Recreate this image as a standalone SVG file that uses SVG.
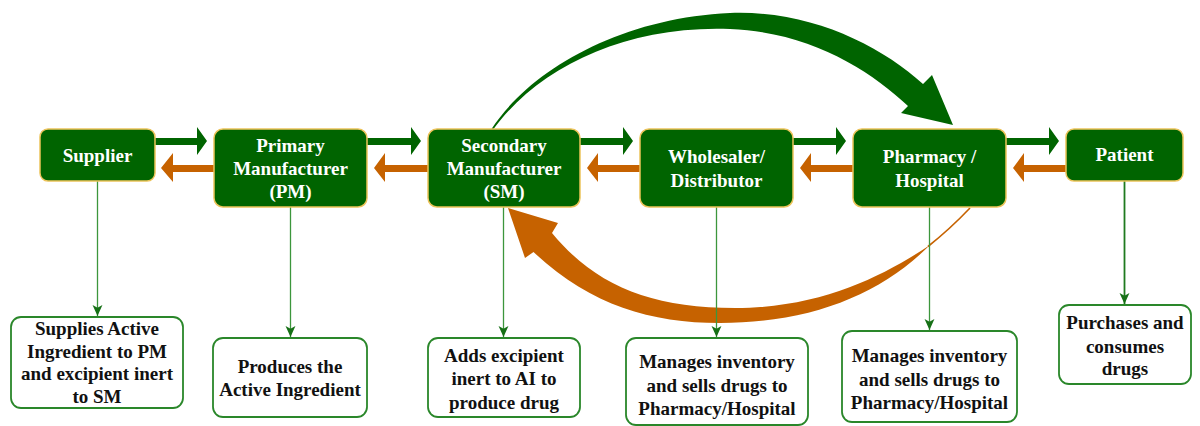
<svg xmlns="http://www.w3.org/2000/svg" width="1200" height="426" viewBox="0 0 1200 426">
  <style>
    .stage { fill: #006400; stroke: #ecc35a; stroke-width: 1.5; }
    .stage-text { font-family: "Liberation Serif", "Times New Roman", serif; font-weight: bold; font-size: 19px; fill: #ffffff; text-anchor: middle; }
    .note { fill: #ffffff; stroke: #2a872a; stroke-width: 1.8; }
    .note-text { font-family: "Liberation Serif", "Times New Roman", serif; font-weight: bold; font-size: 19px; fill: #111111; text-anchor: middle; }
    .fwd { fill: #006400; }
    .back { fill: #c66200; }
    .drop { stroke: #3c963c; stroke-width: 1.3; fill: none; marker-end: url(#tip); }
  </style>
  <defs>
    <marker id="tip" viewBox="0 0 10 10" refX="10" refY="5" markerWidth="11" markerHeight="11" markerUnits="userSpaceOnUse" orient="auto">
      <path d="M0,0.5 L10,5 L0,9.5 L2.5,5 Z" fill="#167016"/>
    </marker>
  </defs>

  <rect width="1200" height="426" fill="#ffffff"/>

  <g id="connectors">
    <!-- forward flow (green) -->
    <path class="fwd" d="M155,138 H197 V127 L207,141 L197,155 V145 H155 Z"/>
    <path class="fwd" d="M367,138 H411 V127 L421,141 L411,155 V145 H367 Z"/>
    <path class="fwd" d="M580,138 H623 V127 L633,141 L623,155 V145 H580 Z"/>
    <path class="fwd" d="M793,138 H836 V127 L846,141 L836,155 V145 H793 Z"/>
    <path class="fwd" d="M1006,138 H1049 V127 L1059,141 L1049,155 V145 H1006 Z"/>
    <!-- return flow (orange) -->
    <path class="back" d="M214,165 H173 V153 L161,168 L173,182 V172 H214 Z"/>
    <path class="back" d="M428,165 H385 V153 L374,168 L385,182 V172 H428 Z"/>
    <path class="back" d="M640,165 H598 V153 L587,168 L598,182 V172 H640 Z"/>
    <path class="back" d="M853,165 H811 V153 L800,168 L811,182 V172 H853 Z"/>
    <path class="back" d="M1066,165 H1024 V153 L1013,168 L1024,182 V172 H1066 Z"/>
    <!-- direct route SM to pharmacy: tapered band widening toward the head -->
    <path class="fwd" d="M953,125 L901,113 L908,106 C870,70 810,32 730,29 C625,25 538,68 493.5,129 L491.5,129 C530,70 620,18 730,13 C810,10 880,45 923,84 L932,75 Z"/>
    <!-- returns from pharmacy back to SM -->
    <path class="back" d="M508,208 L558,223 L552,233 C595,285 650,308 735,308 C822,308 885,275 930,245 C880,295 810,323 720,323 C650,323 590,305 533.5,252 L525,258 Z"/>
    <path d="M928,246.5 Q950,229 970,208" fill="none" stroke="#c66200" stroke-width="1.6"/>
    <!-- role descriptions -->
    <path class="drop" d="M97.5,181 V316"/>
    <path class="drop" d="M290.5,207 V337"/>
    <path class="drop" d="M503.5,207 V337"/>
    <path class="drop" d="M716.5,207 V337"/>
    <path class="drop" d="M929.5,207 V330"/>
    <path class="drop" d="M1124.5,181 V304" style="stroke:#1f7a1f;stroke-width:1.8"/>
  </g>

  <g id="supplier">
    <rect class="stage" x="40" y="129" width="115" height="52" rx="8"/>
    <text class="stage-text" x="97.5" y="162">Supplier</text>
  </g>
  <g id="primary-manufacturer">
    <rect class="stage" x="214" y="129" width="153" height="78" rx="9"/>
    <text class="stage-text" x="290.5" y="152">Primary</text>
    <text class="stage-text" x="290.5" y="175">Manufacturer</text>
    <text class="stage-text" x="290.5" y="198">(PM)</text>
  </g>
  <g id="secondary-manufacturer">
    <rect class="stage" x="428" y="129" width="152" height="78" rx="9"/>
    <text class="stage-text" x="504" y="152">Secondary</text>
    <text class="stage-text" x="504" y="175">Manufacturer</text>
    <text class="stage-text" x="504" y="198">(SM)</text>
  </g>
  <g id="wholesaler">
    <rect class="stage" x="640" y="129" width="153" height="78" rx="9"/>
    <text class="stage-text" x="716.5" y="163">Wholesaler/</text>
    <text class="stage-text" x="716.5" y="187">Distributor</text>
  </g>
  <g id="pharmacy">
    <rect class="stage" x="853" y="129" width="153" height="78" rx="9"/>
    <text class="stage-text" x="929.5" y="163">Pharmacy /</text>
    <text class="stage-text" x="929.5" y="187">Hospital</text>
  </g>
  <g id="patient">
    <rect class="stage" x="1066" y="129" width="117" height="52" rx="8"/>
    <text class="stage-text" x="1124.5" y="161">Patient</text>
  </g>

  <g id="supplier-role">
    <rect class="note" x="11" y="317" width="172" height="91" rx="10"/>
    <text class="note-text" x="97" y="335">Supplies Active</text>
    <text class="note-text" x="97" y="358">Ingredient to PM</text>
    <text class="note-text" x="97" y="380">and excipient inert</text>
    <text class="note-text" x="97" y="403">to SM</text>
  </g>
  <g id="pm-role">
    <rect class="note" x="213" y="338" width="154" height="79" rx="10"/>
    <text class="note-text" x="290" y="373">Produces the</text>
    <text class="note-text" x="290" y="396">Active Ingredient</text>
  </g>
  <g id="sm-role">
    <rect class="note" x="428" y="338" width="152" height="79" rx="10"/>
    <text class="note-text" x="504" y="362">Adds excipient</text>
    <text class="note-text" x="504" y="385">inert to AI to</text>
    <text class="note-text" x="504" y="409">produce drug</text>
  </g>
  <g id="wholesaler-role">
    <rect class="note" x="626" y="338" width="182" height="87" rx="10"/>
    <text class="note-text" x="717" y="368">Manages inventory</text>
    <text class="note-text" x="717" y="392">and sells drugs to</text>
    <text class="note-text" x="717" y="415">Pharmacy/Hospital</text>
  </g>
  <g id="pharmacy-role">
    <rect class="note" x="842" y="331" width="175" height="91" rx="10"/>
    <text class="note-text" x="929.5" y="362">Manages inventory</text>
    <text class="note-text" x="929.5" y="386">and sells drugs to</text>
    <text class="note-text" x="929.5" y="409">Pharmacy/Hospital</text>
  </g>
  <g id="patient-role">
    <rect class="note" x="1059" y="305" width="132" height="79" rx="10"/>
    <text class="note-text" x="1125" y="329">Purchases and</text>
    <text class="note-text" x="1125" y="353">consumes</text>
    <text class="note-text" x="1125" y="375">drugs</text>
  </g>
</svg>
